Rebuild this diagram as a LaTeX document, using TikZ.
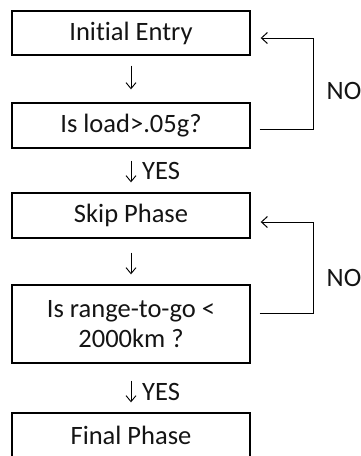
\documentclass[tikz,border=0pt]{standalone}
\usepackage{fontspec}
\setmainfont[Ligatures=NoCommon]{Carlito}
\usetikzlibrary{arrows.meta}
\tikzset{
  box/.style={draw=black, line width=1.4pt, minimum width=238pt, inner sep=0pt,
    align=center, font=\fontsize{26.5}{30}\selectfont, text=black!92},
  darr/.style={draw=black, line width=0.9pt, -{Straight Barb[length=6pt,width=10pt,line width=0.9pt]}},
  larr/.style={draw=black, line width=1pt, -{Straight Barb[length=6pt,width=11pt,line width=1pt]}},
  lbl/.style={font=\fontsize{26.5}{30}\selectfont, text=black!92, inner sep=0pt}
}
\begin{document}
\begin{tikzpicture}[x=1pt,y=-1pt]
\useasboundingbox (0,0) rectangle (361,456);
\node[box, minimum height=44pt] (b1) at (131,33) {Initial Entry};
\node[box, minimum height=45pt] (b2) at (131,125.5) {Is load>.05g?};
\node[box, minimum height=45pt] (b3) at (131,215.5) {Skip Phase};
\node[box, minimum height=78pt] (b4) at (131,324) {Is range-to-go <\\2000km ?};
\node[box, minimum height=44pt] (b5) at (131,435) {Final Phase};

\draw[darr, shorten <=10pt, shorten >=13pt] (b1.south) -- (b2.north);
\draw[darr, shorten <=12pt, shorten >=10pt] (b2.south) -- (b3.north);
\draw[darr, shorten <=14pt, shorten >=10pt] (b3.south) -- (b4.north);
\draw[darr, shorten <=17pt, shorten >=10pt] (b4.south) -- (b5.north);

\node[lbl, anchor=west] (y1) at (142,171) {YES};
\node[lbl, anchor=west] (y2) at (142,392) {YES};

\draw[larr] ([xshift=9pt,yshift=-3.5pt]b2.east) -- ++(54,0) |- ([xshift=10pt,yshift=-5pt]b1.east);
\draw[larr] ([xshift=9pt,yshift=11pt]b4.east) -- ++(54,0) |- ([xshift=10pt,yshift=-6.5pt]b3.east);

\node[lbl] (n1) at (344,91) {NO};
\node[lbl] (n2) at (344,278) {NO};
\end{tikzpicture}
\end{document}
